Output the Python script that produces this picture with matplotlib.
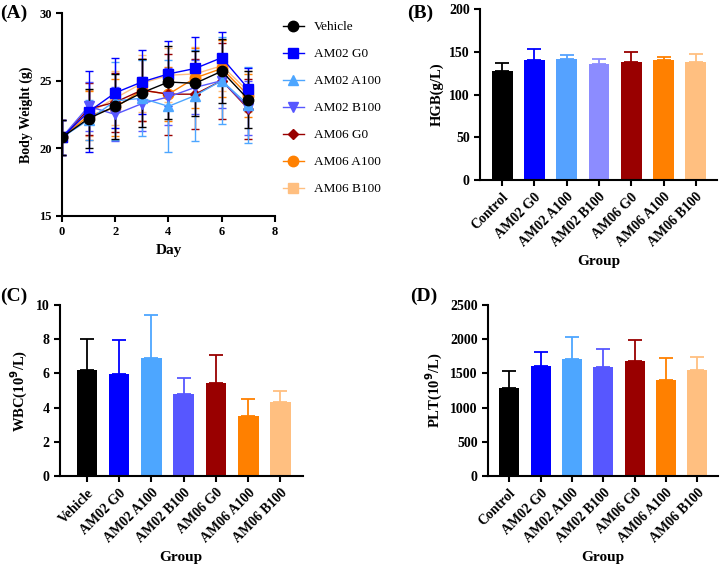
import numpy as np
import matplotlib
matplotlib.use("Agg")
import matplotlib.pyplot as plt
from matplotlib.lines import Line2D

plt.rcParams["font.family"] = ["Liberation Serif", "DejaVu Serif"]
plt.rcParams["font.weight"] = "bold"
plt.rcParams["axes.labelweight"] = "bold"

# ---- panel A: body weight over time ----
days = [0, 1, 2, 3, 4, 5, 6, 7]
groups_a = ["Vehicle", "AM02 G0", "AM02 A100", "AM02 B100", "AM06 G0", "AM06 A100", "AM06 B100"]
bw_mean = {
    "Vehicle":   [20.8, 22.2, 23.1, 24.1, 24.9, 24.8, 25.7, 23.6],
    "AM02 G0":   [20.8, 22.7, 24.1, 24.9, 25.5, 25.9, 26.7, 24.4],
    "AM02 A100": [20.8, 22.1, 23.5, 23.7, 23.1, 23.9, 25.0, 23.2],
    "AM02 B100": [20.8, 23.1, 22.5, 23.3, 23.8, 24.5, 25.0, 23.0],
    "AM06 G0":   [20.8, 22.9, 23.4, 24.3, 24.0, 24.0, 25.0, 22.9],
    "AM06 A100": [20.8, 22.4, 23.0, 24.3, 24.0, 25.2, 25.9, 23.9],
    "AM06 B100": [20.8, 22.6, 23.7, 24.8, 25.4, 25.5, 26.1, 24.2],
}
bw_sd = {
    "Vehicle":   [1.3, 2.2, 2.4, 2.5, 2.7, 2.4, 2.35, 2.1],
    "AM02 G0":   [1.3, 3.0, 2.6, 2.4, 2.4, 2.3, 1.9, 1.5],
    "AM02 A100": [1.3, 1.5, 2.9, 2.8, 3.4, 3.4, 3.2, 2.8],
    "AM02 B100": [1.3, 1.8, 2.0, 2.0, 2.1, 2.0, 2.0, 2.0],
    "AM06 G0":   [1.3, 1.9, 2.2, 2.3, 3.0, 2.6, 2.8, 2.2],
    "AM06 A100": [1.3, 1.8, 2.1, 2.3, 2.0, 2.2, 2.1, 1.6],
    "AM06 B100": [1.3, 1.7, 2.0, 2.1, 2.0, 2.0, 1.9, 1.5],
}
markers_a = ["o", "s", "^", "v", "D", "o", "s"]
msizes_a = [7.5, 7.5, 6.5, 6.5, 5, 7.5, 7.5]

colors = ["#000000", "#0000ff", "#4da6ff", "#5757ff", "#990000", "#ff8000", "#ffbf80"]
colors_b = ["#000000", "#0000ff", "#55a2ff", "#8c8cff", "#990000", "#ff8000", "#ffbf80"]

# ---- panels B-D: haematology ----
cats_b = ["Control", "AM02 G0", "AM02 A100", "AM02 B100", "AM06 G0", "AM06 A100", "AM06 B100"]
cats_c = ["Vehicle", "AM02 G0", "AM02 A100", "AM02 B100", "AM06 G0", "AM06 A100", "AM06 B100"]
hgb = [127.5, 140.5, 141.5, 135.5, 138.0, 140.5, 138.0]
hgb_err = [9.0, 13.0, 5.0, 6.5, 11.5, 3.0, 10.0]
wbc = [6.17, 5.97, 6.89, 4.79, 5.45, 3.50, 4.32]
wbc_err = [1.86, 2.00, 2.52, 0.97, 1.64, 1.03, 0.68]
plt_vals = [1280, 1615, 1705, 1590, 1675, 1400, 1548]
plt_err = [258, 195, 330, 265, 307, 318, 190]

fig = plt.figure(figsize=(7.2, 5.68), dpi=100)


def style(ax, size):
    for s in ["top", "right"]:
        ax.spines[s].set_visible(False)
    for s in ["left", "bottom"]:
        ax.spines[s].set_linewidth(1.5)
    ax.tick_params(width=1.5, length=4, labelsize=size)
    for lab in ax.get_xticklabels() + ax.get_yticklabels():
        lab.set_fontweight("bold")


# A
axA = fig.add_axes([0.086, 0.620, 0.296, 0.357])
for i in reversed(range(len(groups_a))):
    g = groups_a[i]
    axA.errorbar(days, bw_mean[g], yerr=bw_sd[g], color=colors[i], marker=markers_a[i],
                 ms=msizes_a[i], lw=1.0, elinewidth=1.0, capsize=3, capthick=1.0)
axA.set_xlim(0, 8)
axA.set_ylim(15, 30)
axA.set_xticks([0, 2, 4, 6, 8])
axA.set_yticks([15, 20, 25, 30])
axA.set_xlabel("Day", fontsize=11)
axA.set_ylabel("Body Weight (g)", fontsize=10)
style(axA, 9)
handles = [Line2D([], [], color=colors[i], marker=markers_a[i], ms=msizes_a[i], lw=1.0)
           for i in range(len(groups_a))]
axA.legend(handles, groups_a, loc="upper left", bbox_to_anchor=(0.98, 1.02), frameon=False,
           prop={"weight": "normal", "size": 9.5}, labelspacing=1.12, handlelength=1.6,
           handletextpad=0.8)
fig.text(0.0, 0.977, "(A)", fontsize=14, fontweight="bold", va="center")


def bars(rect, cats, vals, errs, cols, ylim, yticks, ylabel, xlim, label, lpos):
    ax = fig.add_axes(rect)
    x = np.arange(len(cats))
    for i in range(len(cats)):
        ax.bar(x[i], vals[i], width=0.64, color=cols[i], zorder=2)
        ax.errorbar(x[i], vals[i], yerr=[[0], [errs[i]]], color=cols[i], capsize=5,
                    elinewidth=1.3, capthick=1.3, zorder=1)
    ax.set_xlim(*xlim)
    ax.set_ylim(*ylim)
    ax.set_yticks(yticks)
    ax.set_xticks(x)
    ax.set_xticklabels(cats, rotation=45, ha="right", rotation_mode="anchor")
    ax.set_xlabel("Group", fontsize=11, labelpad=4)
    ax.set_ylabel(ylabel, fontsize=10.5)
    style(ax, 10)
    fig.text(lpos[0], lpos[1], label, fontsize=14, fontweight="bold", va="center")
    return ax


bars([0.667, 0.683, 0.329, 0.301], cats_b, hgb, hgb_err, colors_b, (0, 200),
     [0, 50, 100, 150, 200], "HGB(g/L)", (-0.68, 6.66), "(B)", (0.565, 0.977))
bars([0.083, 0.162, 0.3375, 0.301], cats_c, wbc, wbc_err, colors, (0, 10),
     [0, 2, 4, 6, 8, 10], r"WBC(10$^{\mathbf{9}}$/L)", (-0.84, 6.69), "(C)", (0.0, 0.478))
bars([0.678, 0.162, 0.319, 0.301], cats_b, plt_vals, plt_err, colors, (0, 2500),
     [0, 500, 1000, 1500, 2000, 2500], r"PLT(10$^{\mathbf{9}}$/L)", (-0.67, 6.65), "(D)", (0.569, 0.478))

fig.savefig("out.png", dpi=100)
